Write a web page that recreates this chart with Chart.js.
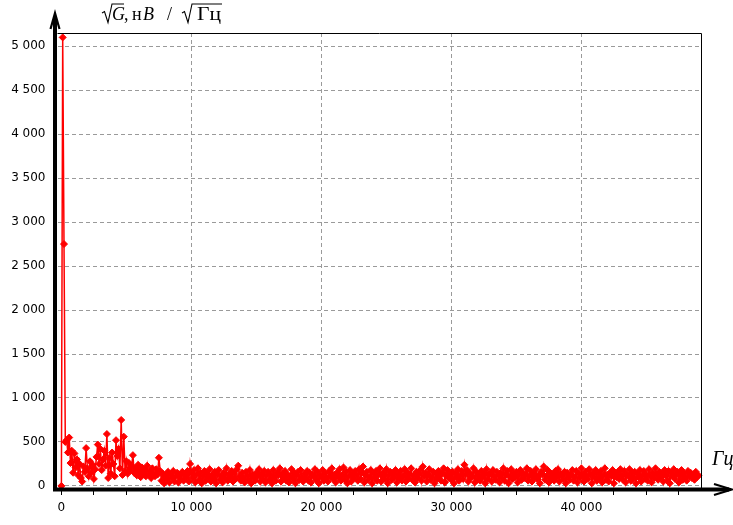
<!DOCTYPE html>
<html>
<head>
<meta charset="utf-8">
<script src="https://cdn.jsdelivr.net/npm/chart.js@4/dist/chart.umd.min.js"></script>
<style>
  html, body { margin: 0; padding: 0; background: #fff; }
  #wrap { width: 733px; height: 525px; }
</style>
</head>
<body>
<div id="wrap"><canvas id="spectrum" width="733" height="525"></canvas></div>
<script>
// spectral density, one value per 100 Hz bin
const BIN_HZ = 100;

// 0 .. 10 000 Hz
const peakBand = [
  0, 5100, 2750, 500, 520, 380, 550, 260, 400, 150,
  370, 210, 300, 120, 250, 90, 50, 220, 160, 430,
  200, 110, 280, 150, 240, 80, 190, 330, 470, 250,
  420, 180, 300, 400, 230, 590, 90, 320, 140, 380,
  250, 110, 520, 340, 420, 200, 750, 125, 560, 170,
  280, 140, 260, 180, 230, 350, 150, 200, 120, 240,
  160, 100, 210, 140, 180, 110, 230, 130, 170, 90,
  200, 140, 110, 190, 130, 320, 170, 60, 140, 30,
  120, 80, 160, 40, 130, 90, 170, 50, 110, 150,
  40, 120, 80, 160, 60, 130, 100, 170, 50, 250,
  140
];

// 10 100 .. 49 000 Hz
const noiseFloor = [
  90, 180, 40, 130, 200, 70, 150, 30, 110, 170,
  60, 140, 100, 190, 50, 120, 80, 160, 30, 130,
  180, 70, 110, 40, 150, 90, 200, 60, 130, 100,
  170, 50, 140, 80, 190, 230, 110, 60, 150, 90,
  40, 160, 120, 70, 180, 30, 130, 100, 60, 150,
  110, 190, 50, 140, 80, 170, 40, 120, 160, 70,
  130, 30, 180, 100, 60, 150, 120, 200, 50, 140,
  90, 170, 60, 130, 40, 110, 190, 80, 150, 30,
  120, 160, 70, 180, 100, 50, 140, 90, 170, 60,
  150, 40, 130, 110, 190, 70, 160, 30, 120, 100,
  180, 60, 140, 90, 50, 170, 110, 200, 80, 130,
  40, 150, 100, 190, 60, 120, 210, 70, 160, 30,
  110, 180, 50, 140, 90, 170, 130, 60, 190, 80,
  150, 220, 40, 120, 160, 70, 100, 180, 30, 140,
  90, 170, 60, 130, 200, 50, 110, 150, 80, 190,
  30, 120, 160, 70, 140, 100, 180, 40, 130, 90,
  170, 60, 110, 190, 50, 150, 80, 130, 200, 70,
  120, 40, 160, 90, 140, 180, 60, 220, 110, 150,
  50, 130, 190, 70, 100, 160, 30, 140, 80, 170,
  110, 60, 150, 200, 40, 120, 180, 90, 130, 70,
  160, 30, 140, 100, 190, 60, 120, 170, 80, 240,
  130, 180, 50, 150, 90, 110, 200, 40, 160, 70,
  120, 60, 170, 100, 140, 30, 190, 80, 130, 150,
  50, 180, 110, 70, 160, 120, 40, 150, 90, 200,
  60, 130, 170, 30, 110, 190, 80, 140, 100, 160,
  40, 120, 180, 70, 150, 90, 130, 200, 60, 110,
  170, 50, 140, 100, 190, 80, 120, 30, 160, 130,
  220, 70, 110, 180, 40, 150, 90, 130, 60, 170,
  100, 190, 50, 140, 120, 80, 160, 30, 150, 110,
  70, 130, 180, 60, 100, 170, 40, 140, 90, 200,
  120, 50, 160, 110, 80, 190, 130, 30, 150, 100,
  180, 60, 140, 90, 170, 40, 120, 200, 70, 130,
  50, 150, 110, 180, 30, 140, 100, 160, 80, 190,
  120, 70, 170, 40, 130, 110, 190, 60, 150, 90,
  160, 30, 140, 100, 180, 50, 120, 170, 80, 130,
  60, 190, 110, 40, 150, 90, 200, 130, 70, 160,
  100, 140, 50, 180, 120, 60, 170, 30, 150, 110,
  190, 80, 130, 160, 40, 120, 180, 70, 140, 100,
  60, 170, 110, 150, 90, 130, 70, 160, 100, 120
];

// axis ticks: labelled majors, unlabelled minors
const xMajor = 10000, xMinor = 2500, xLastTick = 47500;
const yMajor = 500, yMinor = 125, yLastTick = 5125;

function spaced(v) { return String(v).replace(/\B(?=(\d{3})+(?!\d))/g, " "); }
function tickList(step, last) {
  const out = [];
  for (let v = 0; v <= last; v += step) out.push({ value: v });
  return out;
}

const amplitude = peakBand.concat(noiseFloor);
const points = amplitude.map((v, i) => ({ x: i * BIN_HZ, y: v }));

const SERIF = '"Liberation Serif", "DejaVu Serif", serif';

function radical(ctx, x, base, w) {
  ctx.beginPath();
  ctx.moveTo(x, base - 7);
  ctx.lineTo(x + 2.5, base - 8.5);
  ctx.lineTo(x + 6, base + 2.5);
  ctx.lineTo(x + 10, base - 16);
  ctx.lineTo(x + 10 + w, base - 16);
  ctx.stroke();
}

const axesPlugin = {
  id: "axes",
  afterDraw(chart) {
    const { ctx, chartArea: a } = chart;
    ctx.save();
    ctx.strokeStyle = "#000";
    ctx.fillStyle = "#000";

    // thin frame top/right
    ctx.lineWidth = 1;
    ctx.beginPath();
    ctx.moveTo(a.left, a.top + 0.5);
    ctx.lineTo(Math.round(a.right) + 0.5, a.top + 0.5);
    ctx.lineTo(Math.round(a.right) + 0.5, a.bottom);
    ctx.stroke();

    // thick axes
    const ax = 55, ay = 489.5;
    ctx.lineWidth = 4;
    ctx.beginPath();
    ctx.moveTo(ax, ay + 2);
    ctx.lineTo(ax, 16);
    ctx.moveTo(ax - 2, ay);
    ctx.lineTo(729, ay);
    ctx.stroke();

    // arrow heads
    ctx.lineWidth = 2.2;
    ctx.beginPath();
    ctx.moveTo(ax - 4.5, 29);
    ctx.lineTo(ax, 13);
    ctx.lineTo(ax + 4.5, 29);
    ctx.moveTo(714, ay - 5.5);
    ctx.lineTo(732, ay);
    ctx.lineTo(714, ay + 5.5);
    ctx.stroke();

    // y title: sqrt(G), нB / sqrt(Гц)
    const base = 20;
    ctx.lineWidth = 1.1;
    ctx.textBaseline = "alphabetic";
    ctx.textAlign = "left";
    radical(ctx, 102, base, 12);
    ctx.font = "italic 18px " + SERIF;
    ctx.fillText("G", 112, base);
    ctx.font = "18px " + SERIF;
    ctx.fillText(",", 124, base);
    ctx.fillText("н", 132, base);
    ctx.font = "italic 18px " + SERIF;
    ctx.fillText("B", 143, base);
    ctx.font = "18px " + SERIF;
    ctx.fillText("/", 167, base);
    radical(ctx, 182, base, 30);
    ctx.save();
    ctx.translate(197, base);
    ctx.scale(1.2, 1);
    ctx.fillText("Гц", 0, 0);
    ctx.restore();

    // x title, cut off by the page edge
    ctx.font = "italic 20px " + SERIF;
    ctx.fillText("Гц", 712, 465);
    ctx.restore();
  }
};

new Chart(document.getElementById("spectrum"), {
  type: "scatter",
  data: {
    datasets: [{
      data: points,
      showLine: true,
      borderColor: "#ff0000",
      backgroundColor: "#ff0000",
      borderWidth: 1.5,
      pointStyle: "rectRot",
      pointRadius: 3.5,
      pointBorderWidth: 1,
      pointBackgroundColor: "#ff0000",
      pointBorderColor: "#ff0000",
      clip: false
    }]
  },
  options: {
    responsive: false,
    animation: false,
    layout: { padding: { top: 33, right: 32, bottom: 0, left: 0 } },
    plugins: { legend: { display: false }, tooltip: { enabled: false } },
    scales: {
      x: {
        type: "linear",
        min: -300,
        max: 49200,
        afterFit: s => { s.height = 36; },
        afterBuildTicks: s => { s.ticks = tickList(xMinor, xLastTick); },
        border: { display: false, dash: [4, 3] },
        grid: {
          color: c => (c.tick && c.tick.value % xMajor === 0 && c.tick.value !== 0) ? "#9a9a9a" : "rgba(0,0,0,0)",
          tickColor: "#000",
          tickLength: 6,
          lineWidth: 1
        },
        ticks: {
          autoSkip: false,
          maxRotation: 0,
          padding: 6,
          color: "#000",
          font: { family: '"DejaVu Sans", sans-serif', size: 12 },
          callback: v => v % xMajor === 0 ? spaced(v) : ""
        }
      },
      y: {
        type: "linear",
        min: -35,
        max: 5150,
        afterFit: s => { s.width = 57.5; },
        afterBuildTicks: s => { s.ticks = tickList(yMinor, yLastTick); },
        border: { display: false, dash: [4, 3] },
        grid: {
          color: c => (c.tick && c.tick.value % yMajor === 0) ? "#9a9a9a" : "rgba(0,0,0,0)",
          drawTicks: false,
          lineWidth: 1
        },
        ticks: {
          autoSkip: false,
          padding: 12,
          color: "#000",
          font: { family: '"DejaVu Sans", sans-serif', size: 12 },
          callback: v => v % yMajor === 0 ? spaced(v) : ""
        }
      }
    }
  },
  plugins: [axesPlugin]
});
</script>
</body>
</html>
